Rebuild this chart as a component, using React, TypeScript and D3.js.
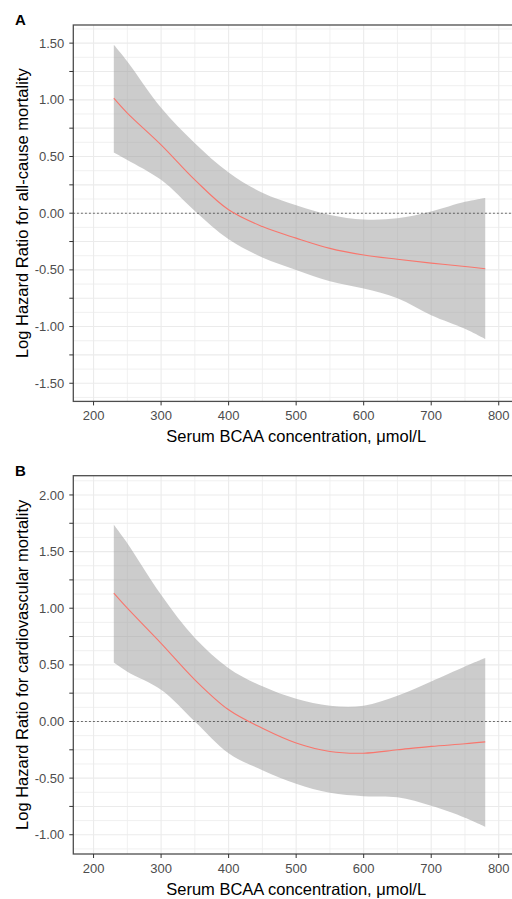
import React from 'react';
import * as d3 from 'd3';

// BCAA concentration grid (µmol/L)
const bcaa = [230, 250, 300, 350, 400, 450, 500, 550, 600, 650, 700, 750, 780];

// Panel A: all-cause mortality
const allCauseFit = [1.015, 0.883, 0.603, 0.294, 0.03, -0.118, -0.22, -0.31, -0.368, -0.406, -0.44, -0.47, -0.49];
const allCauseUpper = [1.485, 1.338, 0.93, 0.618, 0.36, 0.18, 0.07, -0.015, -0.055, -0.045, 0.015, 0.1, 0.135];
const allCauseLower = [0.535, 0.47, 0.294, 0.02, -0.23, -0.39, -0.5, -0.6, -0.665, -0.75, -0.9, -1.02, -1.11];

// Panel B: cardiovascular mortality
const cvdFit = [1.133, 1.0, 0.69, 0.368, 0.103, -0.06, -0.19, -0.265, -0.28, -0.25, -0.22, -0.197, -0.18];
const cvdUpper = [1.736, 1.574, 1.118, 0.736, 0.471, 0.31, 0.2, 0.14, 0.14, 0.227, 0.353, 0.485, 0.56];
const cvdLower = [0.52, 0.44, 0.28, 0.0, -0.28, -0.43, -0.55, -0.63, -0.66, -0.67, -0.745, -0.85, -0.93];

const xTicks = [200, 300, 400, 500, 600, 700, 800];
const xMinor = [250, 350, 450, 550, 650, 750];
const yTicksA = [-1.5, -1.25, -1, -0.75, -0.5, -0.25, 0, 0.25, 0.5, 0.75, 1, 1.25, 1.5];
const yTicksB = [-1, -0.75, -0.5, -0.25, 0, 0.25, 0.5, 0.75, 1, 1.25, 1.5, 1.75, 2];

const FONT = "'Liberation Sans', Arial, sans-serif";

type PanelProps = {
  letter: string;
  yTitle: string;
  top: number;
  bottom: number;
  yDomain: [number, number];
  yTicks: number[];
  fit: number[];
  upper: number[];
  lower: number[];
};

const Panel = ({ letter, yTitle, top, bottom, yDomain, yTicks, fit, upper, lower }: PanelProps) => {
  const left = 73.3;
  const right = 519;
  const x = d3.scaleLinear().domain([170, 830]).range([left, right]);
  const y = d3.scaleLinear().domain(yDomain).range([bottom, top]);

  const rows = bcaa.map((b, i) => ({ b, fit: fit[i], hi: upper[i], lo: lower[i] }));
  const area = d3
    .area<any>()
    .x(d => x(d.b))
    .y0(d => y(d.lo))
    .y1(d => y(d.hi))
    .curve(d3.curveCatmullRom.alpha(0.5));
  const line = d3
    .line<any>()
    .x(d => x(d.b))
    .y(d => y(d.fit))
    .curve(d3.curveCatmullRom.alpha(0.5));

  // minor y gridlines half-way between major ticks
  const step = yTicks[1] - yTicks[0];
  const yMinor = [yTicks[0] - step / 2, ...yTicks.map(t => t + step / 2)].filter(
    v => v > yDomain[0] && v < yDomain[1]
  );
  const isLabelled = (v: number) => Math.abs(Math.round(v * 2) - v * 2) < 1e-6;

  return (
    <g>
      <text x={15} y={top} fontSize={15} fontWeight="bold" fontFamily={FONT}>
        {letter}
      </text>
      <rect x={left} y={top} width={right - left} height={bottom - top} fill="white" />
      {xMinor.map(v => (
        <line key={'xm' + v} x1={x(v)} x2={x(v)} y1={top} y2={bottom} stroke="#EEEEEE" strokeWidth={0.9} />
      ))}
      {yMinor.map(v => (
        <line key={'ym' + v} x1={left} x2={right} y1={y(v)} y2={y(v)} stroke="#EEEEEE" strokeWidth={0.9} />
      ))}
      {xTicks.map(v => (
        <line key={'xg' + v} x1={x(v)} x2={x(v)} y1={top} y2={bottom} stroke="#EBEBEB" strokeWidth={1.1} />
      ))}
      {yTicks.map(v => (
        <line key={'yg' + v} x1={left} x2={right} y1={y(v)} y2={y(v)} stroke="#EBEBEB" strokeWidth={1.1} />
      ))}
      <path d={area(rows) ?? ''} fill="#999999" fillOpacity={0.5} />
      <line
        x1={left}
        x2={right}
        y1={y(0)}
        y2={y(0)}
        stroke="#333333"
        strokeWidth={1.1}
        strokeDasharray="1.3 2.7"
      />
      <path d={line(rows) ?? ''} fill="none" stroke="#F8766D" strokeWidth={1.1} />
      <rect
        x={left}
        y={top}
        width={right - left}
        height={bottom - top}
        fill="none"
        stroke="#4D4D4D"
        strokeWidth={1.3}
      />
      {yTicks.map(v => (
        <g key={'yt' + v}>
          <line x1={left - 4} x2={left} y1={y(v)} y2={y(v)} stroke="#333333" strokeWidth={1} />
          {isLabelled(v) && (
            <text
              x={left - 9}
              y={y(v)}
              dy="0.35em"
              textAnchor="end"
              fontSize={13}
              fill="#4D4D4D"
              fontFamily={FONT}
            >
              {d3.format('.2f')(v).replace('−', '-')}
            </text>
          )}
        </g>
      ))}
      {xTicks.map(v => (
        <g key={'xt' + v}>
          <line x1={x(v)} x2={x(v)} y1={bottom} y2={bottom + 4} stroke="#333333" strokeWidth={1} />
          <text x={x(v)} y={bottom + 19} textAnchor="middle" fontSize={13} fill="#4D4D4D" fontFamily={FONT}>
            {v}
          </text>
        </g>
      ))}
      <text
        x={(left + right) / 2}
        y={bottom + 41}
        textAnchor="middle"
        fontSize={16.5}
        fill="#000"
        fontFamily={FONT}
      >
        Serum BCAA concentration, μmol/L
      </text>
      <text
        transform={`translate(28 ${(top + bottom) / 2}) rotate(-90)`}
        textAnchor="middle"
        fontSize={16.5}
        fill="#000"
        fontFamily={FONT}
      >
        {yTitle}
      </text>
    </g>
  );
};

export default function App() {
  return (
    <div style={{ position: 'absolute', left: 0, top: 0 }}>
      <svg width={512} height={899} style={{ display: 'block', background: 'white' }}>
        <Panel
          letter="A"
          yTitle="Log Hazard Ratio for all-cause mortality"
          top={25}
          bottom={401.4}
          yDomain={[-1.66, 1.66]}
          yTicks={yTicksA}
          fit={allCauseFit}
          upper={allCauseUpper}
          lower={allCauseLower}
        />
        <Panel
          letter="B"
          yTitle="Log Hazard Ratio for cardiovascular mortality"
          top={475.7}
          bottom={854}
          yDomain={[-1.17, 2.17]}
          yTicks={yTicksB}
          fit={cvdFit}
          upper={cvdUpper}
          lower={cvdLower}
        />
      </svg>
    </div>
  );
}
